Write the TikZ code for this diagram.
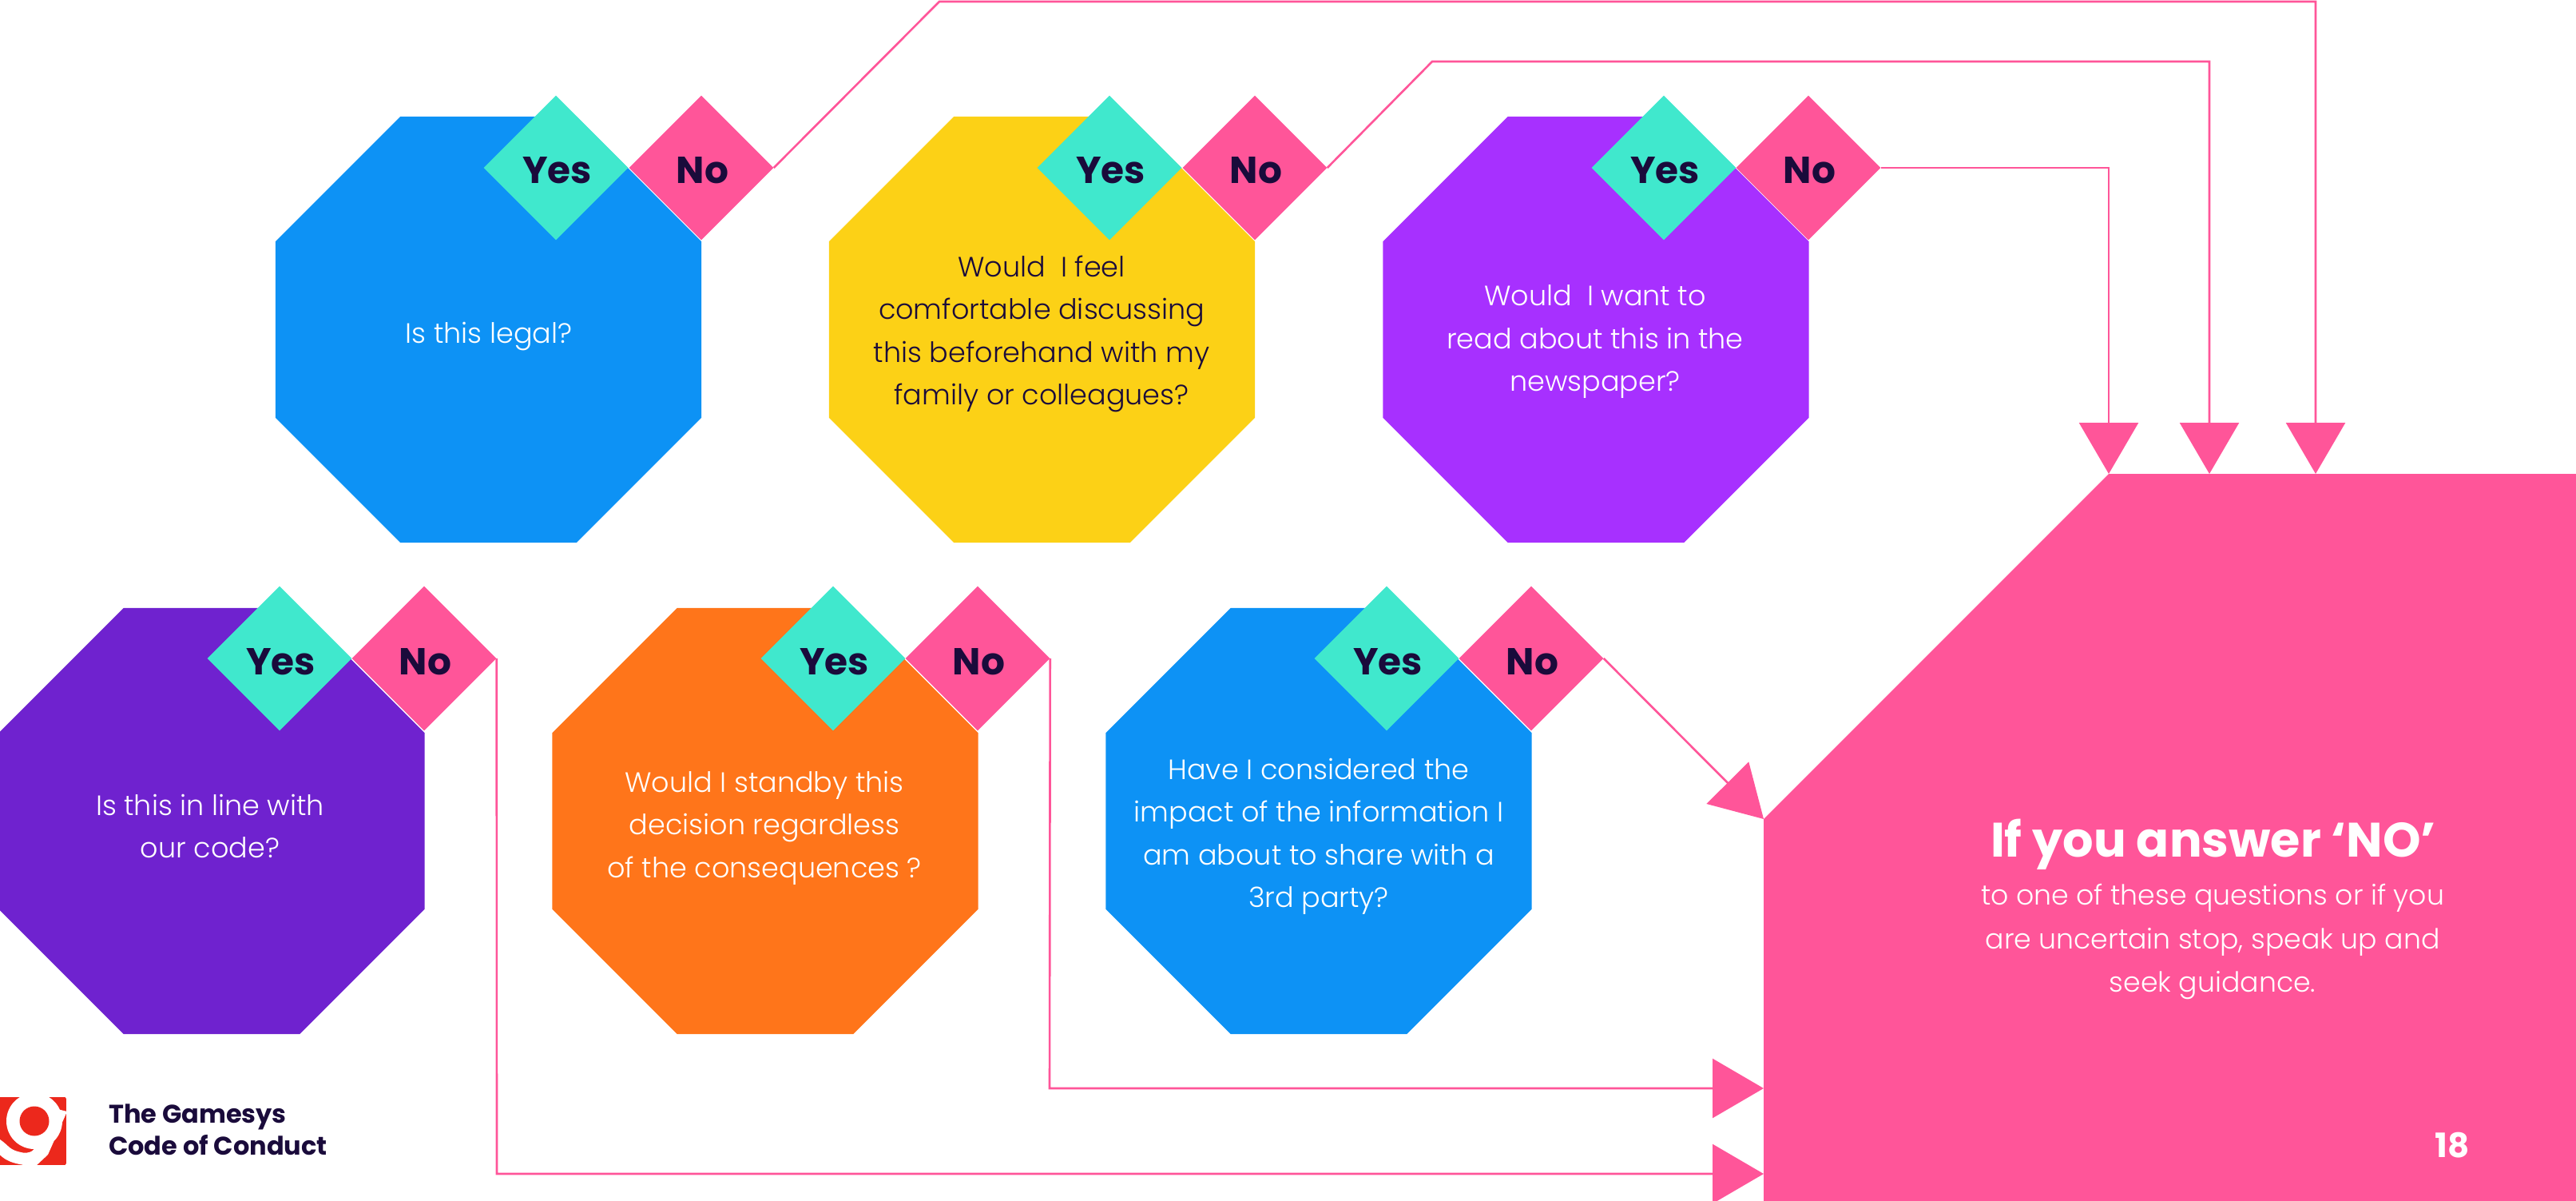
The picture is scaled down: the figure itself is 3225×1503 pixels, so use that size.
\documentclass[tikz,border=0pt]{standalone}
\usepackage{fontspec}
\setmainfont{Poppins}
\newfontfamily\lightfont{Poppins Light}
\usetikzlibrary{shapes.geometric,arrows.meta}
\definecolor{flag}{HTML}{FF5599}
\definecolor{teal}{HTML}{40E8CD}
\definecolor{ink}{HTML}{1A0B3B}
\definecolor{sky}{HTML}{0D92F5}
\definecolor{sun}{HTML}{FCD116}
\definecolor{violet}{HTML}{A730FF}
\definecolor{grape}{HTML}{6F22CF}
\definecolor{tangerine}{HTML}{FF751A}
\definecolor{logored}{HTML}{EC281C}

\begin{document}
\begin{tikzpicture}[x=1pt,y=-1pt,
	octagon/.style={regular polygon,regular polygon sides=8,minimum size=577pt,inner sep=0pt,fill=#1},
	answer/.style={diamond,aspect=1,minimum width=181pt,minimum height=181pt,inner sep=0pt,fill=#1,text=ink,text height=40pt,text depth=0pt,font=\fontsize{47}{50}\selectfont\bfseries},
	question/.style={align=center,text=white,inner sep=0pt,font=\lightfont\fontsize{35}{53.5}\selectfont},
	link/.style={draw=flag,line width=2.6pt,-{Triangle[width=74pt,length=64pt,fill=flag]}},
]
	\useasboundingbox (0,0) rectangle (3225,1503);
	%end points
	\coordinate (E1) at (2899,593);
	\coordinate (E2) at (2766,593);
	\coordinate (E3) at (2640,593);
	\coordinate (E4) at (2208,1025);
	\coordinate (E5) at (2208,1362);
	\coordinate (E6) at (2208,1469);
	%stop box
	\fill[flag] (E3) -- (3225,593) -- (3225,1503) -- (2208,1503) -- (E4) -- cycle;
	\node[inner sep=0pt,text=white,font=\fontsize{60.5}{70}\selectfont\bfseries] (stophead) at (2771,1057) {If you answer ‘NO’};
	\node[question,font=\lightfont\fontsize{34.7}{54.5}\selectfont] (stoptext) at (2770,1179) {to one of these questions or if you\\are uncertain stop, speak up and\\seek guidance.};
	\node[inner sep=0pt,text=white,font=\fontsize{42}{44}\selectfont\bfseries] (page) at (3070,1433) {18};
	%top row
	\node[octagon=sky] (oct1) at (611.5,412.5) {};
	\node[octagon=sun] (oct2) at (1304.5,412.5) {};
	\node[octagon=violet] (oct3) at (1998,412.5) {};
	\node[question] (text1) at (612,421) {Is this legal?};
	\node[question,text=ink] (text2) at (1304,418) {Would\ \ I feel\\comfortable discussing\\this beforehand with my\\family or colleagues?};
	\node[question] (text3) at (1997,428) {Would\ \ I want to\\read about this in the\\newspaper?};
	\node[answer=teal] (yes1) at (696,210) {\hspace{3pt}Yes};
	\node[answer=flag] (no1) at (878,210) {\hspace{3pt}No};
	\node[answer=teal] (yes2) at (1389,210) {\hspace{3pt}Yes};
	\node[answer=flag] (no2) at (1571,210) {\hspace{3pt}No};
	\node[answer=teal] (yes3) at (2083,210) {\hspace{3pt}Yes};
	\node[answer=flag] (no3) at (2264,210) {\hspace{3pt}No};
	%bottom row
	\node[octagon=grape] (oct4) at (265,1027.5) {};
	\node[octagon=tangerine] (oct5) at (958,1027.5) {};
	\node[octagon=sky] (oct6) at (1651,1027.5) {};
	\node[question] (text4) at (263,1034) {Is this in line with\\our code?};
	\node[question] (text5) at (957,1036) {Would I standby this\\decision regardless\\of the consequences ?};
	\node[question] (text6) at (1651,1047) {Have I considered the\\impact of the information I\\am about to share with a\\3rd party?};
	\node[answer=teal] (yes4) at (350,824) {\hspace{3pt}Yes};
	\node[answer=flag] (no4) at (531,824) {\hspace{3pt}No};
	\node[answer=teal] (yes5) at (1043,824) {\hspace{3pt}Yes};
	\node[answer=flag] (no5) at (1224,824) {\hspace{3pt}No};
	\node[answer=teal] (yes6) at (1736,824) {\hspace{3pt}Yes};
	\node[answer=flag] (no6) at (1917,824) {\hspace{3pt}No};
	%connectors
	\coordinate (B1) at (1176,2);
	\coordinate (C1) at (2899,2);
	\coordinate (B2) at (1793,77);
	\coordinate (C2) at (2766,77);
	\coordinate (C3) at (2640,210);
	\coordinate (C5) at (1314,1362);
	\coordinate (C6) at (622,1469);
	\draw[link] (no1.east) -- (B1) -- (C1) -- (E1);
	\draw[link] (no2.east) -- (B2) -- (C2) -- (E2);
	\draw[link] (no3.east) -- (C3) -- (E3);
	\draw[link] (no6.east) -- (E4);
	\draw[link] (no5.east) -- (C5) -- (E5);
	\draw[link] (no4.east) -- (C6) -- (E6);
	%logo
	\begin{scope}
		\clip[rounded corners=2pt] (-4,1373) rectangle (83,1458);
		\fill[logored] (-4,1373) rectangle (83,1458);
		\fill[white] (43,1403) circle (35);
		\fill[white] (68,1387) -- (84,1391) -- (60,1445) -- (44,1460) -- (26,1460) -- (46,1436) -- cycle;
		\draw[white,line width=15pt] (-6,1431) .. controls (8,1440) and (6,1446) .. (28,1450) .. controls (38,1451) and (48,1448) .. (52,1436);
		\fill[logored] (43,1403) circle (18.5);
	\end{scope}
	\node[anchor=west,align=left,inner sep=0pt,text=ink,font=\fontsize{32}{39.5}\selectfont\bfseries] (logotext) at (136,1414) {The Gamesys\\Code of Conduct};
\end{tikzpicture}
\end{document}
